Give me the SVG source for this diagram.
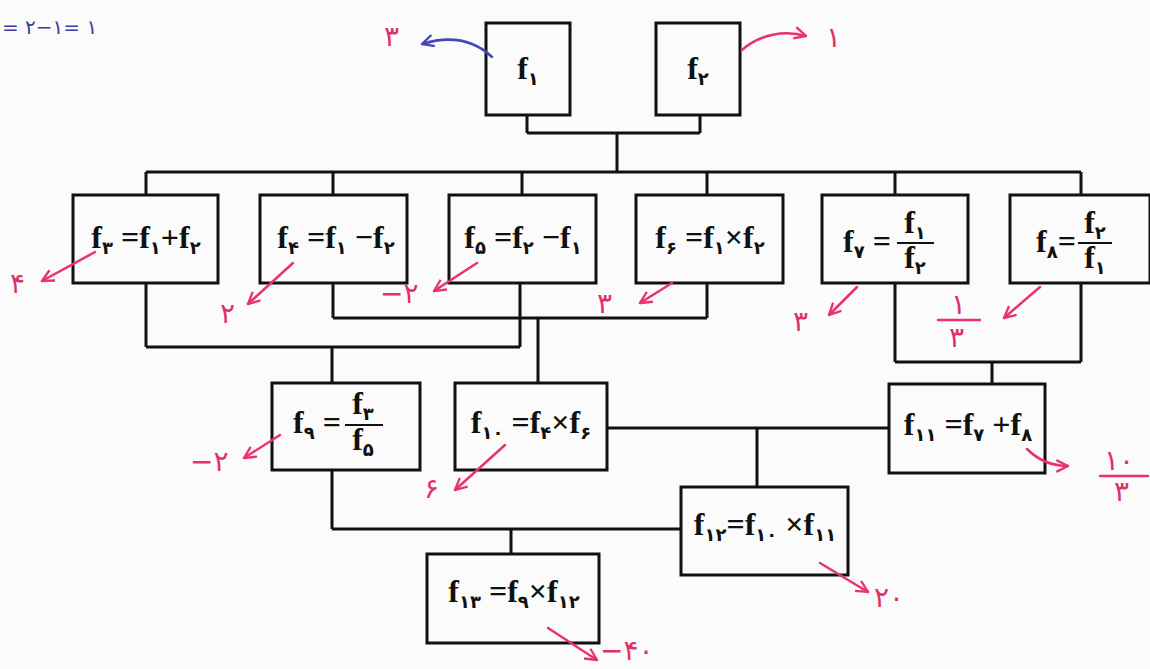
<svg xmlns="http://www.w3.org/2000/svg" width="1150" height="669" viewBox="0 0 1150 669">
<defs>
<style>
.bx{fill:none;stroke:#111;stroke-width:3}
.cn{fill:none;stroke:#111;stroke-width:3}
.eq{font-family:"Liberation Serif","DejaVu Serif",serif;font-weight:bold;font-size:32px;fill:#111}
.s{font-family:"DejaVu Sans",sans-serif;font-weight:bold;font-size:18px}
.fb{stroke:#111;stroke-width:2}
.pk{fill:none;stroke:#e8336d;stroke-width:2.5;stroke-linecap:round}
.bl{fill:none;stroke:#4646b4;stroke-width:2.5;stroke-linecap:round}
.pt{font-family:"DejaVu Sans",sans-serif;font-size:28px;fill:#e0306a}
.bt{font-family:"DejaVu Sans",sans-serif;font-size:20px;fill:#3c3ca0}
</style>
<marker id="ap" viewBox="0 0 12 12" refX="11" refY="6" markerWidth="14" markerHeight="14" orient="auto" markerUnits="userSpaceOnUse"><path d="M1,1 L11,6 L1,11" fill="none" stroke="#e8336d" stroke-width="2"/></marker>
<marker id="ab" viewBox="0 0 12 12" refX="11" refY="6" markerWidth="14" markerHeight="14" orient="auto" markerUnits="userSpaceOnUse"><path d="M1,1 L11,6 L1,11" fill="none" stroke="#4646b4" stroke-width="2"/></marker>
</defs>
<rect width="1150" height="669" fill="#fbfbfb"/>

<g id="connectors">
<path class="cn" d="M527,115V133M700,115V133M527,133H700M617,133V172"/>
<path class="cn" d="M146,172H1081M146,172V195M333,172V195M522,172V195M707,172V195M895,172V195M1081,172V195"/>
<path class="cn" d="M146,283V347M520,283V347M146,347H520M333,283V318M707,283V318M333,318H707"/>
<path class="cn" d="M332,347V383M538,318V383"/>
<path class="cn" d="M895,283V362M1081,283V362M895,362H1081M992,362V384"/>
<path class="cn" d="M607,428H889M757,428V487"/>
<path class="cn" d="M332,470V529M332,529H681M511,529V554"/>
</g>

<g id="f1"><rect class="bx" x="486" y="23" width="84" height="92"/>
<text class="eq" x="528" y="79" text-anchor="middle">f<tspan class="s" dy="6">۱</tspan></text></g>
<g id="f2"><rect class="bx" x="656" y="23" width="84" height="92"/>
<text class="eq" x="698" y="79" text-anchor="middle">f<tspan class="s" dy="6">۲</tspan></text></g>

<g id="f3"><rect class="bx" x="73" y="195" width="145" height="88"/>
<text class="eq" x="146" y="248" text-anchor="middle">f<tspan class="s" dy="6">۳</tspan><tspan dy="-6"> =f</tspan><tspan class="s" dy="6">۱</tspan><tspan dy="-6">+f</tspan><tspan class="s" dy="6">۲</tspan></text></g>
<g id="f4"><rect class="bx" x="260" y="195" width="147" height="88"/>
<text class="eq" x="336" y="248" text-anchor="middle">f<tspan class="s" dy="6">۴</tspan><tspan dy="-6"> =f</tspan><tspan class="s" dy="6">۱</tspan><tspan dy="-6"> −f</tspan><tspan class="s" dy="6">۲</tspan></text></g>
<g id="f5"><rect class="bx" x="449" y="195" width="147" height="88"/>
<text class="eq" x="523" y="248" text-anchor="middle">f<tspan class="s" dy="6">۵</tspan><tspan dy="-6"> =f</tspan><tspan class="s" dy="6">۲</tspan><tspan dy="-6"> −f</tspan><tspan class="s" dy="6">۱</tspan></text></g>
<g id="f6"><rect class="bx" x="636" y="195" width="147" height="88"/>
<text class="eq" x="710" y="248" text-anchor="middle">f<tspan class="s" dy="6">۶</tspan><tspan dy="-6"> =f</tspan><tspan class="s" dy="6">۱</tspan><tspan dy="-6">×f</tspan><tspan class="s" dy="6">۲</tspan></text></g>
<g id="f7"><rect class="bx" x="822" y="195" width="146" height="88"/>
<text class="eq" x="843" y="252">f<tspan class="s" dy="6">۷</tspan><tspan dy="-6"> =</tspan></text>
<line class="fb" x1="897" y1="243" x2="934" y2="243"/>
<text class="eq" x="915" y="233" text-anchor="middle">f<tspan class="s" dy="6">۱</tspan></text>
<text class="eq" x="915" y="268" text-anchor="middle">f<tspan class="s" dy="6">۲</tspan></text></g>
<g id="f8"><rect class="bx" x="1010" y="195" width="140" height="88"/>
<text class="eq" x="1036" y="252">f<tspan class="s" dy="6">۸</tspan><tspan dy="-6">=</tspan></text>
<line class="fb" x1="1078" y1="243" x2="1112" y2="243"/>
<text class="eq" x="1095" y="233" text-anchor="middle">f<tspan class="s" dy="6">۲</tspan></text>
<text class="eq" x="1095" y="268" text-anchor="middle">f<tspan class="s" dy="6">۱</tspan></text></g>

<g id="f9"><rect class="bx" x="272" y="383" width="148" height="87"/>
<text class="eq" x="293" y="433">f<tspan class="s" dy="6">۹</tspan><tspan dy="-6"> =</tspan></text>
<line class="fb" x1="345" y1="425" x2="383" y2="425"/>
<text class="eq" x="363" y="414" text-anchor="middle">f<tspan class="s" dy="6">۳</tspan></text>
<text class="eq" x="363" y="450" text-anchor="middle">f<tspan class="s" dy="6">۵</tspan></text></g>
<g id="f10"><rect class="bx" x="455" y="383" width="152" height="87"/>
<text class="eq" x="531" y="433" text-anchor="middle">f<tspan class="s" dy="6">۱۰</tspan><tspan dy="-6"> =f</tspan><tspan class="s" dy="6">۴</tspan><tspan dy="-6">×f</tspan><tspan class="s" dy="6">۶</tspan></text></g>
<g id="f11"><rect class="bx" x="889" y="384" width="156" height="89"/>
<text class="eq" x="968" y="435" text-anchor="middle">f<tspan class="s" dy="6">۱۱</tspan><tspan dy="-6"> =f</tspan><tspan class="s" dy="6">۷</tspan><tspan dy="-6"> +f</tspan><tspan class="s" dy="6">۸</tspan></text></g>
<g id="f12"><rect class="bx" x="681" y="487" width="167" height="88"/>
<text class="eq" x="765" y="535" text-anchor="middle">f<tspan class="s" dy="6">۱۲</tspan><tspan dy="-6">=f</tspan><tspan class="s" dy="6">۱۰</tspan><tspan dy="-6"> ×f</tspan><tspan class="s" dy="6">۱۱</tspan></text></g>
<g id="f13"><rect class="bx" x="427" y="554" width="172" height="89"/>
<text class="eq" x="514" y="602" text-anchor="middle">f<tspan class="s" dy="6">۱۳</tspan><tspan dy="-6"> =f</tspan><tspan class="s" dy="6">۹</tspan><tspan dy="-6">×f</tspan><tspan class="s" dy="6">۱۲</tspan></text></g>

<g id="annotations">
<text class="bt" x="2" y="34">= ۲−۱= ۱</text>
<path class="bl" d="M492,57 C472,38 448,36 422,44" marker-end="url(#ab)"/>
<text class="pt" x="384" y="46">۳</text>
<path class="pk" d="M742,50 C760,34 785,30 806,36" marker-end="url(#ap)"/>
<text class="pt" x="826" y="47">۱</text>
<path class="pk" d="M95,252 L42,281" marker-end="url(#ap)"/>
<text class="pt" x="10" y="293">۴</text>
<path class="pk" d="M293,263 L248,304" marker-end="url(#ap)"/>
<text class="pt" x="220" y="323">۲</text>
<path class="pk" d="M477,263 L434,291" marker-end="url(#ap)"/>
<text class="pt" x="380" y="303">−۲</text>
<path class="pk" d="M672,283 L640,303" marker-end="url(#ap)"/>
<text class="pt" x="597" y="313">۳</text>
<path class="pk" d="M857,287 L829,315" marker-end="url(#ap)"/>
<text class="pt" x="793" y="331">۳</text>
<path class="pk" d="M1040,287 L1004,318" marker-end="url(#ap)"/>
<text class="pt" x="951" y="314" font-size="20">۱</text>
<line class="pk" x1="938" y1="320" x2="980" y2="320"/>
<text class="pt" x="949" y="347">۳</text>
<path class="pk" d="M280,435 L244,458" marker-end="url(#ap)"/>
<text class="pt" x="190" y="471">−۲</text>
<path class="pk" d="M505,445 L455,490" marker-end="url(#ap)"/>
<text class="pt" x="424" y="498">۶</text>
<path class="pk" d="M1027,449 C1040,462 1054,466 1068,466" marker-end="url(#ap)"/>
<text class="pt" x="1104" y="470" font-size="20">۱۰</text>
<line class="pk" x1="1100" y1="476" x2="1148" y2="476"/>
<text class="pt" x="1114" y="501">۳</text>
<path class="pk" d="M820,563 L868,592" marker-end="url(#ap)"/>
<text class="pt" x="874" y="607">۲۰</text>
<path class="pk" d="M548,628 L597,660" marker-end="url(#ap)"/>
<text class="pt" x="600" y="660" font-size="24">−۴۰</text>
</g>
</svg>
